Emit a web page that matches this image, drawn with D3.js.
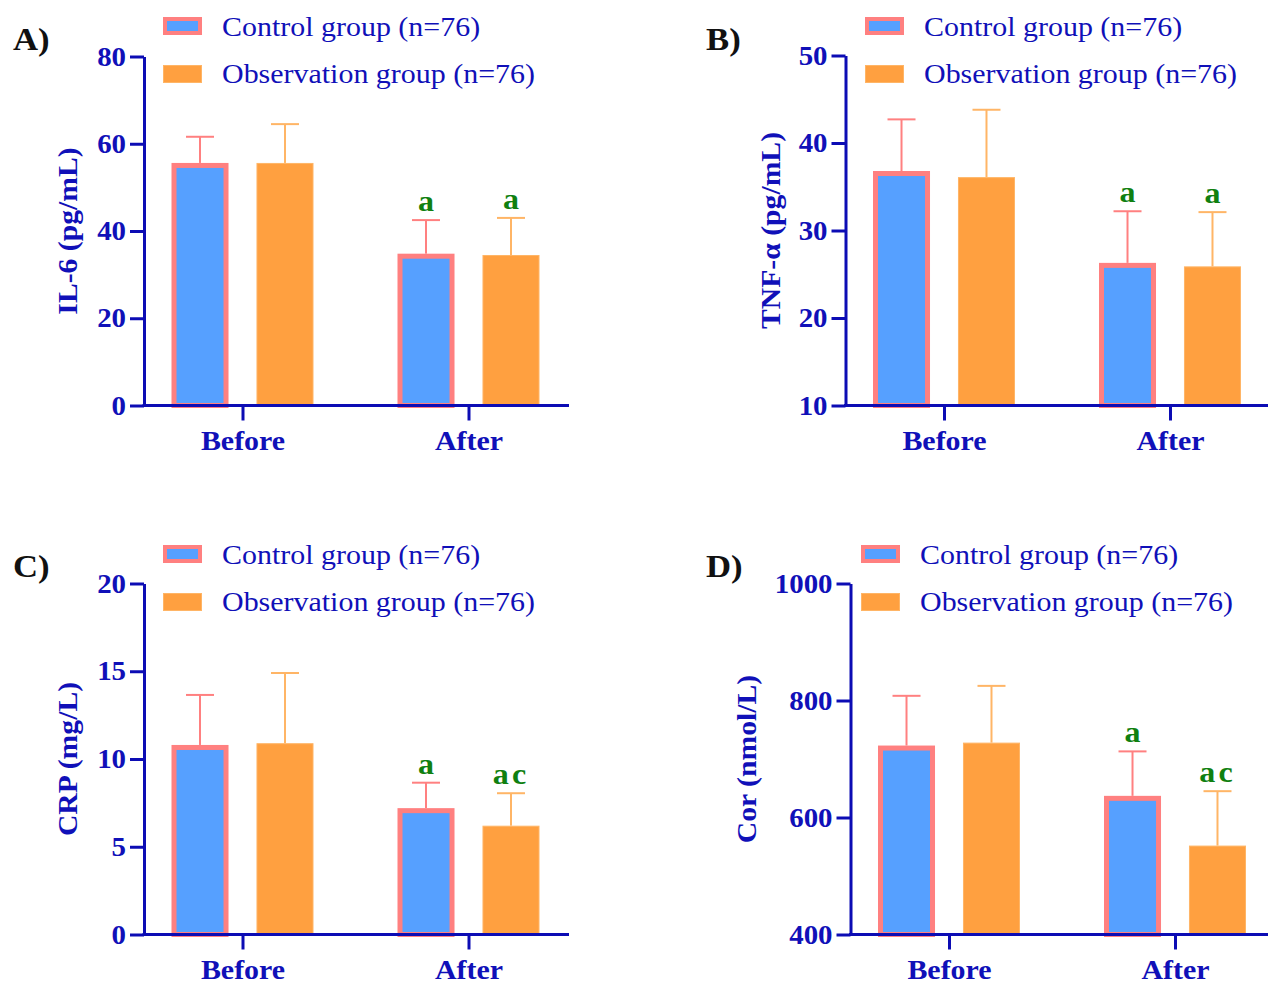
<!DOCTYPE html>
<html><head><meta charset="utf-8">
<script src="https://cdn.jsdelivr.net/npm/d3@7"></script>
<style>
body{margin:0;background:#fff}
svg{display:block}
text{font-family:"Liberation Serif","Times New Roman",serif}
</style></head>
<body><svg id="chart" width="1268" height="982"></svg>
<script>
// ---------- data ----------
const categories = ["Before", "After"];
const seriesNames = ["Control group (n=76)", "Observation group (n=76)"];

const il6Control = [55.6, 34.8];   const il6ControlSD = [6.0, 7.7];
const il6Obs     = [55.6, 34.5];   const il6ObsSD     = [8.9, 8.5];
const il6Ticks   = [0, 20, 40, 60, 80];

const tnfControl = [36.8, 26.3];   const tnfControlSD = [5.9, 5.9];
const tnfObs     = [36.1, 25.9];   const tnfObsSD     = [7.7, 6.2];
const tnfTicks   = [10, 20, 30, 40, 50];

const crpControl = [10.8, 7.2];    const crpControlSD = [2.85, 1.45];
const crpObs     = [10.9, 6.2];    const crpObsSD     = [4.0, 1.85];
const crpTicks   = [0, 5, 10, 15, 20];

const corControl = [723, 637];     const corControlSD = [85, 76];
const corObs     = [728, 552];     const corObsSD     = [97, 93];
const corTicks   = [400, 600, 800, 1000];

const lettersControl = ["", "a"];
const lettersObsAB   = ["", "a"];
const lettersObsCD   = ["", "ac"];

// ---------- layout / style ----------
const AXIS = "#0c0cb4", TEXTC = "#1010b8";
const BLUE = "#56a0ff", PINK = "#ff8080", ORANGE = "#ffa040", ORANGE_LT = "#ffb566";
const GREEN = "#108010";
const SX = 1.07; // horizontal glyph stretch seen in the reference

const panels = [
  {tag:"A)", tagX:13, tagY:50, axisX:144, top:56.5, bottom:405.5, legX:163, legY:17, titleX:77,
   title:"IL-6 (pg/mL)", ticks:il6Ticks, ctrl:il6Control, ctrlSD:il6ControlSD, obs:il6Obs, obsSD:il6ObsSD,
   lc:lettersControl, lo:lettersObsAB},
  {tag:"B)", tagX:706, tagY:50, axisX:845.5, top:55.5, bottom:405.5, legX:865, legY:17, titleX:780,
   title:"TNF-α (pg/mL)", ticks:tnfTicks, ctrl:tnfControl, ctrlSD:tnfControlSD, obs:tnfObs, obsSD:tnfObsSD,
   lc:lettersControl, lo:lettersObsAB},
  {tag:"C)", tagX:13, tagY:577, axisX:144, top:583.5, bottom:934.5, legX:163, legY:545, titleX:77,
   title:"CRP (mg/L)", ticks:crpTicks, ctrl:crpControl, ctrlSD:crpControlSD, obs:crpObs, obsSD:crpObsSD,
   lc:lettersControl, lo:lettersObsCD},
  {tag:"D)", tagX:706, tagY:577, axisX:850.5, top:583.5, bottom:934.5, legX:861, legY:545, titleX:756,
   title:"Cor (nmol/L)", ticks:corTicks, ctrl:corControl, ctrlSD:corControlSD, obs:corObs, obsSD:corObsSD,
   lc:lettersControl, lo:lettersObsCD}
];

const svg = d3.select("#chart");

function drawPanel(p) {
  const g = svg.append("g");
  const y = d3.scaleLinear().domain([p.ticks[0], p.ticks[p.ticks.length-1]]).range([p.bottom, p.top]);
  const x = d3.scalePoint().domain(categories).range([p.axisX + 98.5, p.axisX + 324.5]);
  const xs = d3.scaleBand().domain([0, 1]).range([-71, 71]).paddingInner(0.329);
  const bw = xs.bandwidth();

  const ctrlData = categories.map((c, i) => ({c, m:p.ctrl[i], sd:p.ctrlSD[i], l:p.lc[i]}));
  const obsData  = categories.map((c, i) => ({c, m:p.obs[i],  sd:p.obsSD[i],  l:p.lo[i]}));

  function errBars(data, k, color) {
    const eg = g.append("g").attr("stroke", color).attr("stroke-width", 2);
    data.forEach(d => {
      const cx = x(d.c) + xs(k) + bw/2;
      eg.append("line").attr("x1", cx).attr("x2", cx).attr("y1", y(d.m)).attr("y2", y(d.m + d.sd));
      eg.append("line").attr("x1", cx - 14).attr("x2", cx + 14).attr("y1", y(d.m + d.sd)).attr("y2", y(d.m + d.sd));
    });
  }
  errBars(ctrlData, 0, PINK);
  errBars(obsData, 1, ORANGE_LT);

  g.append("g").selectAll("rect").data(ctrlData).join("rect")
    .attr("x", d => x(d.c) + xs(0) + 2.5)
    .attr("y", d => y(d.m) + 2.5)
    .attr("width", bw - 5)
    .attr("height", d => p.bottom - y(d.m) - 2.5)
    .attr("fill", BLUE).attr("stroke", PINK).attr("stroke-width", 5);

  g.append("g").selectAll("rect").data(obsData).join("rect")
    .attr("x", d => x(d.c) + xs(1) + 0.5)
    .attr("y", d => y(d.m) + 0.5)
    .attr("width", bw - 1)
    .attr("height", d => p.bottom - y(d.m) - 0.5)
    .attr("fill", ORANGE).attr("stroke", ORANGE_LT).attr("stroke-width", 1);

  // significance letters
  [[ctrlData, 0], [obsData, 1]].forEach(([data, k]) => {
    g.append("g").selectAll("text").data(data.filter(d => d.l)).join("text")
      .attr("transform", d => `translate(${x(d.c) + xs(k) + bw/2},${y(d.m + d.sd) - 9}) scale(${SX},1)`)
      .attr("text-anchor", "middle")
      .attr("fill", GREEN).attr("font-weight", "bold").attr("font-size", 30)
      .attr("letter-spacing", d => d.l.length > 1 ? 3 : 0)
      .text(d => d.l);
  });

  // y axis
  const ya = g.append("g").attr("transform", `translate(${p.axisX},0)`)
    .call(d3.axisLeft(y).tickValues(p.ticks).tickSize(14).tickSizeOuter(0).tickPadding(4).tickFormat(d3.format("d")));
  ya.select(".domain").attr("stroke", AXIS).attr("stroke-width", 3);
  ya.selectAll(".tick line").attr("stroke", AXIS).attr("stroke-width", 3);
  ya.selectAll(".tick text").attr("fill", TEXTC).attr("font-size", 27).attr("font-weight", "bold")
    .attr("font-family", "'Liberation Serif','Times New Roman',serif")
    .attr("x", -18 / SX).attr("transform", `scale(${SX},1)`);

  // x axis
  const xa = g.append("g").attr("transform", `translate(0,${p.bottom})`)
    .call(d3.axisBottom(x).tickSize(15).tickSizeOuter(0).tickPadding(10));
  xa.select(".domain").remove();
  xa.selectAll(".tick line").attr("stroke", AXIS).attr("stroke-width", 3);
  xa.selectAll(".tick text").attr("fill", TEXTC).attr("font-size", 28).attr("font-weight", "bold")
    .attr("font-family", "'Liberation Serif','Times New Roman',serif")
    .attr("transform", `scale(${SX},1)`);
  g.append("line").attr("x1", p.axisX - 1.5).attr("x2", p.axisX + 425)
    .attr("y1", p.bottom).attr("y2", p.bottom).attr("stroke", AXIS).attr("stroke-width", 3);

  // y title
  g.append("text")
    .attr("transform", `translate(${p.titleX},${(p.top + p.bottom)/2}) rotate(-90) scale(1.06,1)`)
    .attr("text-anchor", "middle").attr("fill", TEXTC).attr("font-size", 28).attr("font-weight", "bold")
    .text(p.title);

  // panel tag
  g.append("text").attr("transform", `translate(${p.tagX},${p.tagY}) scale(1.12,1)`).attr("fill", "#111")
    .attr("font-size", 31).attr("font-weight", "bold").text(p.tag);

  // legend
  const lg = g.append("g").attr("transform", `translate(${p.legX},${p.legY})`);
  lg.append("rect").attr("x", 2).attr("y", 2).attr("width", 35).attr("height", 14)
    .attr("fill", BLUE).attr("stroke", PINK).attr("stroke-width", 4);
  lg.append("rect").attr("x", 0.5).attr("y", 48.5).attr("width", 38).attr("height", 17)
    .attr("fill", ORANGE).attr("stroke", ORANGE_LT).attr("stroke-width", 1);
  lg.selectAll("text").data(seriesNames).join("text")
    .attr("transform", (d, i) => `translate(59,${19 + i * 47}) scale(${SX},1)`)
    .attr("fill", TEXTC).attr("font-size", 28)
    .text(d => d);
}

panels.forEach(drawPanel);
</script></body></html>
